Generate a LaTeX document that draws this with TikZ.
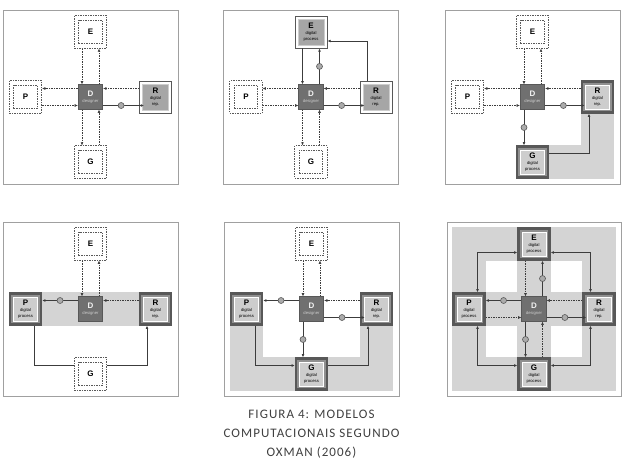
\documentclass[tikz,border=0pt]{standalone}
\usepackage{fontspec}
\setmainfont{Liberation Sans}
\newfontfamily\capfont[LetterSpace=8]{Carlito}
\usepackage{tikz}
\usetikzlibrary{arrows.meta,backgrounds}

\definecolor{framec}{HTML}{A0A0A0}
\definecolor{linec}{HTML}{3C3C3C}
\definecolor{darkc}{HTML}{585858}
\definecolor{desc}{HTML}{707070}
\definecolor{midc}{HTML}{909090}
\definecolor{lightc}{HTML}{CDCDCD}
\definecolor{digic}{HTML}{A6A6A6}
\definecolor{zonec}{HTML}{D4D4D4}
\definecolor{dotc}{HTML}{ABABAB}
\definecolor{capc}{HTML}{404040}

\newcommand{\boxletter}{\fontsize{8}{8.5}\selectfont\bfseries}
\newcommand{\boxsub}{\fontsize{4.2}{5.5}\selectfont}

% the three kinds of boxes round the designer
\newcommand{\physbox}[3]{%
    \node[physout] (#1) at (#2) {};
    \node[physin] at (#1) {#3};}
\newcommand{\digibox}[4]{%
    \node[digiout] (#1) at (#2) {};
    \node[digiin] at (#1) {{\boxletter #3}\\[0.5pt]#4};}
\newcommand{\hibox}[4]{%
    \node[hiout] (#1) at (#2) {};
    \node[hiin] at (#1) {{\boxletter #3}\\[0.5pt]#4};}

\tikzset{
    panel/.style={draw=framec, line width=0.8pt},
    physout/.style={draw=darkc, fill=white, line width=0.6pt,
        dash pattern=on 1.5pt off 1pt, minimum size=32.5pt, inner sep=0pt},
    physin/.style={physout, minimum size=23.5pt, font=\boxletter},
    digiout/.style={draw=darkc, fill=white, line width=0.9pt,
        minimum size=32pt, inner sep=0pt},
    digiin/.style={draw=lightc, fill=digic, line width=0.6pt, minimum size=26pt,
        inner sep=0pt, align=center, font=\boxsub},
    hiout/.style={draw=darkc, fill=midc, line width=2.4pt,
        minimum size=31pt, inner sep=0pt},
    hiin/.style={draw=white, fill=lightc, line width=0.7pt, minimum size=24pt,
        inner sep=0pt, align=center, font=\boxsub},
    designer/.style={draw=darkc, fill=desc, line width=0.7pt, minimum size=24.5pt,
        inner sep=0pt, align=center, font=\boxsub, text=white!90!gray},
    dot/.style={circle, draw=darkc, fill=dotc, line width=0.6pt,
        minimum size=6pt, inner sep=0pt},
    dflow/.style={draw=linec, line width=0.55pt, dash pattern=on 1.5pt off 1pt,
        -{Latex[length=3.2pt,width=2.8pt]}},
    sflow/.style={draw=linec, line width=0.7pt, -{Latex[length=3.2pt,width=2.8pt]}},
    bflow/.style={sflow, {Latex[length=3.2pt,width=2.8pt]}-{Latex[length=3.2pt,width=2.8pt]}},
    greyzone/.style={fill=zonec},
}

\begin{document}
\begin{tikzpicture}[x=1pt,y=-1pt]
        \begin{scope}[on background layer]
            \fill[white] (0,0) rectangle (626,460);
        \end{scope}
        \useasboundingbox (0,0) rectangle (626,460);

        % panel 1
        \begin{scope}[shift={(90.5,97)}]
            \draw[panel] (-87.5,-87) rectangle (87.5,87);
            \node[designer] (D1) at (0,0) {{\boxletter D}\\{\color{lightc}designer}};
            \physbox{E1}{0,-65}{E}
            \physbox{P1}{-65,0}{P}
            \digibox{R1}{65,0}{R}{digital\\rep.}
            \physbox{G1}{0,65}{G}
            \draw[dflow] ([xshift=-8.5pt]E1.south) -- ([xshift=-8.5pt]D1.north);
            \draw[dflow] ([xshift=8.5pt]D1.north) -- ([xshift=8.5pt]E1.south);
            \draw[dflow] ([yshift=8.5pt]D1.west) -- ([yshift=8.5pt]P1.east);
            \draw[dflow] ([yshift=-8.5pt]P1.east) -- ([yshift=-8.5pt]D1.west);
            \draw[dflow] ([yshift=8.5pt]R1.west) -- ([yshift=8.5pt]D1.east);
            \draw[sflow] ([yshift=-8.5pt]D1.east) -- node[dot,pos=0.44]{} ([yshift=-8.5pt,xshift=5pt]R1.west);
            \draw[dflow] ([xshift=-8.5pt]D1.south) -- ([xshift=-8.5pt]G1.north);
            \draw[dflow] ([xshift=8.5pt]G1.north) -- ([xshift=8.5pt]D1.south);
        \end{scope}

        % panel 2
        \begin{scope}[shift={(311,97)}]
            \draw[panel] (-87.5,-87) rectangle (87.5,87);
            \node[designer] (D2) at (0,0) {{\boxletter D}\\{\color{lightc}designer}};
            \digibox{E2}{0,-65}{E}{digital\\process}
            \physbox{P2}{-65,0}{P}
            \digibox{R2}{65,0}{R}{digital\\rep.}
            \physbox{G2}{0,65}{G}
            \draw[sflow] ([xshift=-8.5pt]E2.south) -- ([xshift=-8.5pt]D2.north);
            \draw[sflow] ([xshift=8.5pt]D2.north) -- node[dot]{} ([xshift=8.5pt]E2.south);
            \draw[sflow] ([xshift=-9pt]R2.north) |- ([yshift=-9pt]E2.east);
            \draw[dflow] ([yshift=8.5pt]D2.west) -- ([yshift=8.5pt]P2.east);
            \draw[dflow] ([yshift=-8.5pt]P2.east) -- ([yshift=-8.5pt]D2.west);
            \draw[dflow] ([yshift=8.5pt]R2.west) -- ([yshift=8.5pt]D2.east);
            \draw[sflow] ([yshift=-8.5pt]D2.east) -- node[dot,pos=0.44]{} ([yshift=-8.5pt,xshift=5pt]R2.west);
            \draw[dflow] ([xshift=-8.5pt]D2.south) -- ([xshift=-8.5pt]G2.north);
            \draw[dflow] ([xshift=8.5pt]G2.north) -- ([xshift=8.5pt]D2.south);
        \end{scope}

        % panel 3
        \begin{scope}[shift={(532.5,97)}]
            \draw[panel] (-87.5,-87) rectangle (87.5,87);
            \node[designer] (D3) at (0,0) {{\boxletter D}\\{\color{lightc}designer}};
            \physbox{E3}{0,-65}{E}
            \physbox{P3}{-65,0}{P}
            \hibox{R3}{65,0}{R}{digital\\rep.}
            \hibox{G3}{0,65}{G}{digital\\process}
            \begin{scope}[on background layer]
                \fill[greyzone] (R3.north west) rectangle (R3.east |- G3.south);
                \fill[greyzone] (G3.north west) rectangle (R3.east |- G3.south);
            \end{scope}
            \draw[dflow] ([xshift=-8.5pt]E3.south) -- ([xshift=-8.5pt]D3.north);
            \draw[dflow] ([xshift=8.5pt]D3.north) -- ([xshift=8.5pt]E3.south);
            \draw[dflow] ([yshift=8.5pt]D3.west) -- ([yshift=8.5pt]P3.east);
            \draw[dflow] ([yshift=-8.5pt]P3.east) -- ([yshift=-8.5pt]D3.west);
            \draw[dflow] ([yshift=8.5pt]R3.west) -- ([yshift=8.5pt]D3.east);
            \draw[sflow] ([yshift=-8.5pt]D3.east) -- node[dot,pos=0.46]{} ([yshift=-8.5pt,xshift=4pt]R3.west);
            \draw[sflow] ([xshift=-8.5pt]D3.south) -- node[dot]{} ([xshift=-8.5pt]G3.north);
            \draw[sflow] ([yshift=8.5pt]G3.east) -| ([xshift=-8.5pt]R3.south);
        \end{scope}

        % panel 4
        \begin{scope}[shift={(90.5,309)}]
            \draw[panel] (-87.5,-87) rectangle (87.5,87);
            \node[designer] (D4) at (0,0) {{\boxletter D}\\{\color{lightc}designer}};
            \physbox{E4}{0,-65}{E}
            \hibox{P4}{-65,0}{P}{digital\\process}
            \hibox{R4}{65,0}{R}{digital\\rep.}
            \physbox{G4}{0,65}{G}
            \begin{scope}[on background layer]
                \fill[greyzone] (P4.north west) rectangle (R4.south east);
                \draw[sflow] ([xshift=8.5pt]P4.south) |- ([yshift=8.5pt]G4.center)
                    -| ([xshift=-8.5pt]R4.south);
            \end{scope}
            \draw[dflow] ([xshift=-8.5pt]E4.south) -- ([xshift=-8.5pt]D4.north);
            \draw[dflow] ([xshift=8.5pt]D4.north) -- ([xshift=8.5pt]E4.south);
            \draw[sflow] ([yshift=8.5pt]D4.west) -- node[dot]{} ([yshift=8.5pt]P4.east);
            \draw[dflow] ([yshift=8.5pt]R4.west) -- ([yshift=8.5pt]D4.east);
        \end{scope}

        % panel 5
        \begin{scope}[shift={(311.5,309)}]
            \draw[panel] (-87.5,-87) rectangle (87.5,87);
            \node[designer] (D5) at (0,0) {{\boxletter D}\\{\color{lightc}designer}};
            \physbox{E5}{0,-65}{E}
            \hibox{P5}{-65,0}{P}{digital\\process}
            \hibox{R5}{65,0}{R}{digital\\rep.}
            \hibox{G5}{0,65}{G}{digital\\process}
            \begin{scope}[on background layer]
                \fill[greyzone] (P5.north west) rectangle (P5.east |- G5.south);
                \fill[greyzone] (P5.west |- G5.north) rectangle (R5.east |- G5.south);
                \fill[greyzone] (R5.north west) rectangle (R5.east |- G5.south);
            \end{scope}
            \draw[dflow] ([xshift=-8.5pt]E5.south) -- ([xshift=-8.5pt]D5.north);
            \draw[dflow] ([xshift=8.5pt]D5.north) -- ([xshift=8.5pt]E5.south);
            \draw[sflow] ([yshift=8.5pt]D5.west) -- node[dot]{} ([yshift=8.5pt]P5.east);
            \draw[dflow] ([yshift=8.5pt]R5.west) -- ([yshift=8.5pt]D5.east);
            \draw[sflow] ([yshift=-8.5pt]D5.east) -- node[dot,pos=0.44]{} ([yshift=-8.5pt,xshift=5pt]R5.west);
            \draw[sflow] ([xshift=-8.5pt]D5.south) -- node[dot]{} ([xshift=-8.5pt]G5.north);
            \draw[sflow] ([xshift=8.5pt]P5.south) |- ([yshift=8.5pt]G5.west);
            \draw[sflow] ([yshift=8.5pt]G5.east) -| ([xshift=-8.5pt]R5.south);
        \end{scope}

        % panel 6
        \begin{scope}[shift={(534,309)}]
            \draw[panel] (-87,-87) rectangle (87,87);
            \node[designer] (D6) at (0,0) {{\boxletter D}\\{\color{lightc}designer}};
            \hibox{E6}{0,-65}{E}{digital\\process}
            \hibox{P6}{-65,0}{P}{digital\\process}
            \hibox{R6}{65,0}{R}{digital\\rep.}
            \hibox{G6}{0,65}{G}{digital\\process}
            \begin{scope}[on background layer]
                \fill[greyzone] (P6.west |- E6.north) rectangle (R6.east |- G6.south);
                \fill[white] (P6.north east) rectangle (E6.south west);
                \fill[white] (E6.south east) rectangle (R6.north west);
                \fill[white] (P6.south east) rectangle (G6.north west);
                \fill[white] (G6.north east) rectangle (R6.south west);
            \end{scope}
            \draw[dflow] ([xshift=-8.5pt]E6.south) -- ([xshift=-8.5pt]D6.north);
            \draw[sflow] ([xshift=8.5pt]D6.north) -- node[dot]{} ([xshift=8.5pt]E6.south);
            \draw[sflow] ([yshift=8.5pt]D6.west) -- node[dot]{} ([yshift=8.5pt]P6.east);
            \draw[dflow] ([yshift=-8.5pt]P6.east) -- ([yshift=-8.5pt]D6.west);
            \draw[dflow] ([yshift=8.5pt]R6.west) -- ([yshift=8.5pt]D6.east);
            \draw[sflow] ([yshift=-8.5pt]D6.east) -- node[dot,pos=0.46]{} ([yshift=-8.5pt,xshift=4pt]R6.west);
            \draw[sflow] ([xshift=-8.5pt]D6.south) -- node[dot]{} ([xshift=-8.5pt]G6.north);
            \draw[dflow] ([xshift=8.5pt]G6.north) -- ([xshift=8.5pt]D6.south);
            % corner links
            \draw[bflow] ([xshift=8.5pt]P6.north) |- ([yshift=-8.5pt]E6.west);
            \draw[bflow] ([yshift=-8.5pt]E6.east) -| ([xshift=-8.5pt]R6.north);
            \draw[bflow] ([xshift=8.5pt]P6.south) |- ([yshift=8.5pt]G6.west);
            \draw[bflow] ([yshift=8.5pt]G6.east) -| ([xshift=-8.5pt]R6.south);
        \end{scope}

        % caption
        \node[font=\capfont\fontsize{13}{19}\selectfont, text=capc, align=center]
            (caption) at (311.5,434.5) {FIGURA 4: MODELOS\\COMPUTACIONAIS SEGUNDO\\OXMAN (2006)};
\end{tikzpicture}
\end{document}
